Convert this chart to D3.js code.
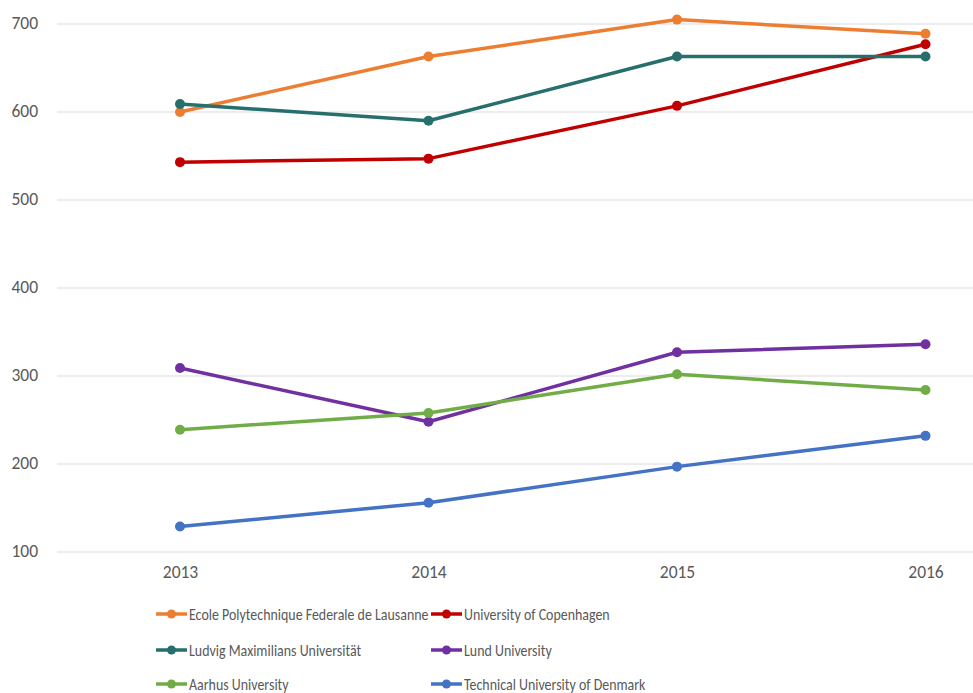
<!DOCTYPE html>
<html><head><meta charset="utf-8">
<script src="https://cdn.jsdelivr.net/npm/d3@7/dist/d3.min.js"></script>
<style>body{margin:0;background:#fff}svg{display:block}</style>
</head><body>
<svg id="c" width="973" height="693"></svg>
<script>
const years = ["2013","2014","2015","2016"];
const yTicks = [100,200,300,400,500,600,700];
const seriesNames = ["Ecole Polytechnique Federale de Lausanne","University of Copenhagen","Ludvig Maximilians Universität","Lund University","Aarhus University","Technical University of Denmark"];
const seriesColors = ["#ED7D31","#C00000","#266F6C","#7030A0","#70AD47","#4472C4"];
const epfl = [600,663,705,689];
const copenhagen = [543,547,607,677];
const lmu = [609,590,663,663];
const lund = [309,248,327,336];
const aarhus = [239,258,302,284];
const dtu = [129,156,197,232];
const seriesValues = [epfl,copenhagen,lmu,lund,aarhus,dtu];

const svg = d3.select("#c");
const font = "Carlito, Calibri, sans-serif";
const x = d3.scalePoint().domain(years).range([180,925.5]);
const y = d3.scaleLinear().domain([100,700]).range([552,24]);

// gridlines
svg.append("g").selectAll("line").data(yTicks).join("line")
  .attr("x1",57).attr("x2",973).attr("y1",d=>y(d)).attr("y2",d=>y(d))
  .attr("stroke","#d9d9d9").attr("stroke-width",1);

// y axis labels
const yAxis = d3.axisLeft(y).tickValues(yTicks).tickSize(0).tickPadding(0);
const gy = svg.append("g").attr("transform","translate(38,-1)").call(yAxis);
gy.select(".domain").remove();
gy.selectAll("text").attr("fill","#595959").attr("font-size","17.5px").attr("font-family",font);

// x axis labels
const xAxis = d3.axisBottom(x).tickSize(0).tickPadding(0);
const gx = svg.append("g").attr("transform","translate(0,566)").call(xAxis);
gx.select(".domain").remove();
gx.selectAll("text").attr("fill","#595959").attr("font-size","17.5px").attr("font-family",font);

const line = d3.line().x((d,i)=>x(years[i])).y(d=>y(d));
seriesValues.forEach((vals,si)=>{
  const g = svg.append("g");
  g.append("path").datum(vals).attr("d",line).attr("fill","none")
    .attr("stroke",seriesColors[si]).attr("stroke-width",3.5).attr("stroke-linejoin","round");
  g.selectAll("circle").data(vals).join("circle")
    .attr("cx",(d,i)=>x(years[i])).attr("cy",d=>y(d)).attr("r",5).attr("fill",seriesColors[si]);
});

// legend
const legX = [156,431];
const legY = [614,650,684];
seriesNames.forEach((name,i)=>{
  const lx = legX[i%2], ly = legY[Math.floor(i/2)];
  const g = svg.append("g");
  g.append("line").attr("x1",lx).attr("x2",lx+31).attr("y1",ly).attr("y2",ly)
    .attr("stroke",seriesColors[i]).attr("stroke-width",3.5);
  g.append("circle").attr("cx",lx+15.5).attr("cy",ly).attr("r",4.5).attr("fill",seriesColors[i]);
  g.append("text").attr("transform",`translate(${lx+33},${ly}) scale(0.82,1)`).attr("dy","0.35em")
    .attr("fill","#595959").attr("font-size","17px").attr("font-family",font).text(name);
});
</script>
</body></html>
